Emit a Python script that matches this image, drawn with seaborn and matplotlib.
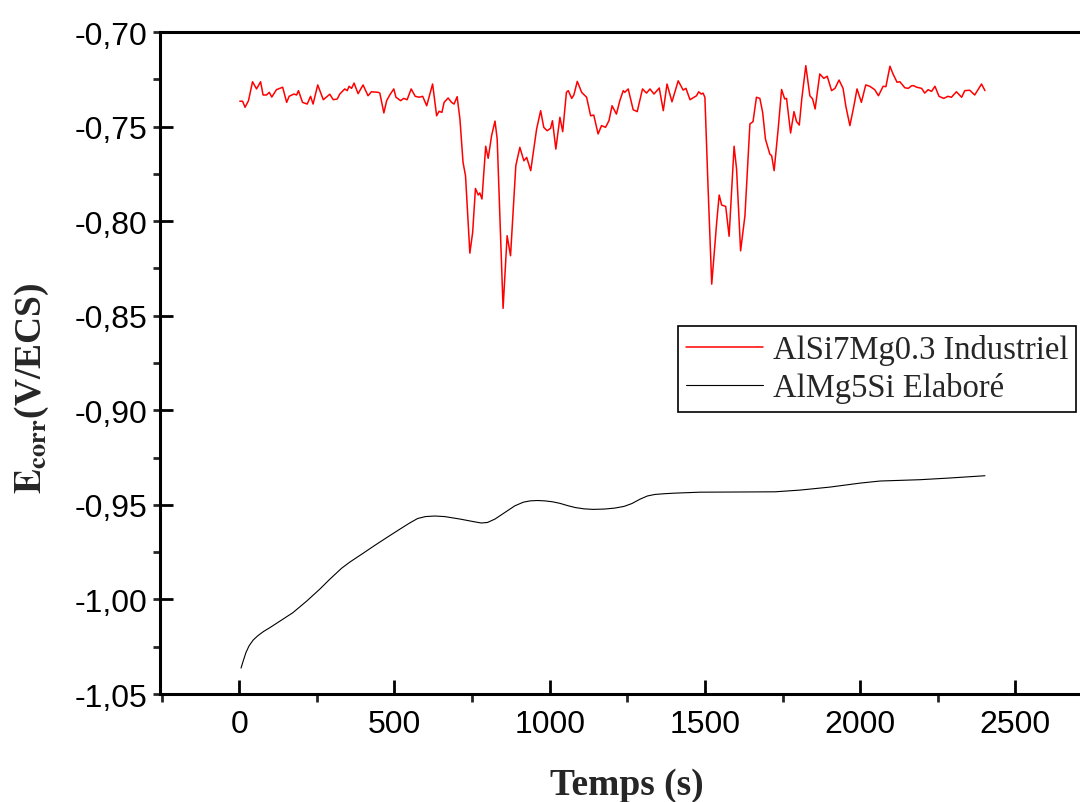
import numpy as np
import pandas as pd
import seaborn as sns
import matplotlib
matplotlib.use("Agg")
import matplotlib.pyplot as plt
from matplotlib.ticker import MultipleLocator, FuncFormatter

# AlSi7Mg0.3 Industriel (courbe rouge)
t_ind = [2, 11, 19, 30, 43, 56, 69, 77, 88, 97, 105, 120, 140, 153, 161, 176, 185, 191, 204, 219,
         230, 238, 253, 271, 292, 303, 316, 324, 340, 348, 354, 362, 370, 383, 399, 415, 426, 448, 453, 466,
         475, 485, 498, 505, 520, 530, 541, 554, 567, 580, 591, 604, 623, 636, 644, 653, 660, 673, 684, 692,
         702, 711, 721, 729, 743, 752, 761, 770, 775, 782, 794, 802, 813, 824, 831, 840, 850, 863, 874, 891,
         904, 917, 926, 939, 958, 971, 981, 992, 1003, 1009, 1020, 1033, 1042, 1054, 1060, 1071, 1078, 1089, 1103, 1119,
         1132, 1142, 1156, 1167, 1180, 1191, 1201, 1215, 1226, 1237, 1242, 1253, 1269, 1282, 1299, 1312, 1323, 1336, 1353, 1366,
         1378, 1394, 1414, 1430, 1439, 1452, 1473, 1480, 1488, 1494, 1500, 1510, 1522, 1538, 1546, 1554, 1567, 1578, 1594, 1602,
         1615, 1629, 1645, 1655, 1666, 1677, 1686, 1695, 1709, 1715, 1723, 1736, 1747, 1757, 1763, 1776, 1787, 1795, 1804, 1812,
         1825, 1838, 1847, 1855, 1870, 1883, 1894, 1908, 1919, 1932, 1945, 1954, 1967, 1980, 1990, 2004, 2018, 2031, 2047, 2059,
         2074, 2083, 2096, 2106, 2119, 2128, 2144, 2155, 2166, 2173, 2182, 2198, 2208, 2219, 2230, 2241, 2254, 2269, 2283, 2294,
         2310, 2327, 2337, 2353, 2369, 2391, 2402]
e_ind = [-0.7366, -0.7366, -0.7398, -0.7363, -0.7263, -0.7301, -0.7263, -0.7333, -0.7333, -0.7319,
         -0.7344, -0.7305, -0.7292, -0.7372, -0.7340, -0.7328, -0.7333, -0.7310, -0.7372, -0.7381,
         -0.7340, -0.7381, -0.7280, -0.7358, -0.7329, -0.7358, -0.7354, -0.7328, -0.7301, -0.7310,
         -0.7287, -0.7298, -0.7270, -0.7326, -0.7280, -0.7337, -0.7316, -0.7319, -0.7323, -0.7428,
         -0.7363, -0.7333, -0.7301, -0.7345, -0.7363, -0.7351, -0.7358, -0.7301, -0.7340, -0.7345,
         -0.7340, -0.7390, -0.7275, -0.7443, -0.7419, -0.7425, -0.7372, -0.7349, -0.7372, -0.7381,
         -0.7342, -0.7460, -0.7689, -0.7760, -0.8169, -0.8059, -0.7827, -0.7862, -0.7851, -0.7883,
         -0.7604, -0.7668, -0.7548, -0.7471, -0.7566, -0.7989, -0.8461, -0.8077, -0.8183, -0.7707,
         -0.7610, -0.7681, -0.7663, -0.7733, -0.7513, -0.7416, -0.7504, -0.7522, -0.7509, -0.7469,
         -0.7619, -0.7451, -0.7527, -0.7319, -0.7310, -0.7351, -0.7333, -0.7261, -0.7319, -0.7345,
         -0.7443, -0.7439, -0.7539, -0.7495, -0.7504, -0.7469, -0.7390, -0.7434, -0.7363, -0.7310,
         -0.7319, -0.7301, -0.7411, -0.7421, -0.7301, -0.7323, -0.7301, -0.7328, -0.7296, -0.7416,
         -0.7275, -0.7369, -0.7258, -0.7307, -0.7298, -0.7358, -0.7337, -0.7316, -0.7328, -0.7323,
         -0.7345, -0.7813, -0.8333, -0.8006, -0.7862, -0.7915, -0.7922, -0.8080, -0.7604, -0.7724,
         -0.8157, -0.7971, -0.7486, -0.7474, -0.7345, -0.7351, -0.7425, -0.7566, -0.7645, -0.7654,
         -0.7733, -0.7513, -0.7304, -0.7354, -0.7351, -0.7534, -0.7421, -0.7473, -0.7492, -0.7354,
         -0.7178, -0.7337, -0.7354, -0.7407, -0.7222, -0.7245, -0.7234, -0.7310, -0.7298, -0.7254,
         -0.7298, -0.7393, -0.7495, -0.7390, -0.7301, -0.7372, -0.7280, -0.7287, -0.7305, -0.7337,
         -0.7287, -0.7289, -0.7181, -0.7222, -0.7266, -0.7263, -0.7295, -0.7298, -0.7284, -0.7284,
         -0.7292, -0.7298, -0.7323, -0.7305, -0.7314, -0.7287, -0.7340, -0.7351, -0.7340, -0.7345,
         -0.7316, -0.7345, -0.7310, -0.7308, -0.7333, -0.7275, -0.7310]

# AlMg5Si Elaboré (courbe noire)
t_ela = [6, 14, 22, 32, 45, 60, 78, 100, 131, 173, 218, 260, 292, 330, 356, 400, 437, 480, 518, 550,
         575, 600, 630, 662, 711, 759, 780, 800, 824, 856, 888, 915, 937, 960, 985, 1010, 1033, 1060,
         1082, 1110, 1140, 1178, 1210, 1240, 1265, 1291, 1315, 1339, 1370, 1404, 1484, 1613, 1726,
         1806, 1903, 2000, 2064, 2193, 2289, 2402]
e_ela = [-1.0363, -1.0320, -1.0280, -1.0245, -1.0215, -1.0192, -1.0170, -1.0148, -1.0115, -1.0070,
         -1.0008, -0.9945, -0.9893, -0.9835, -0.9803, -0.9755, -0.9714, -0.9668, -0.9628, -0.9595,
         -0.9572, -0.9562, -0.9559, -0.9562, -0.9575, -0.9590, -0.9596, -0.9593, -0.9575, -0.9540,
         -0.9505, -0.9486, -0.9479, -0.9477, -0.9479, -0.9484, -0.9492, -0.9505, -0.9514, -0.9521,
         -0.9524, -0.9522, -0.9517, -0.9508, -0.9493, -0.9470, -0.9453, -0.9445, -0.9441, -0.9438,
         -0.9433, -0.9432, -0.9431, -0.9422, -0.9406, -0.9385, -0.9374, -0.9367, -0.9358, -0.9346]

labels = ["AlSi7Mg0.3 Industriel", "AlMg5Si Elaboré"]

sns.set_style("ticks")
plt.rcParams["font.family"] = ["Liberation Sans", "DejaVu Sans"]
plt.rcParams["mathtext.fontset"] = "stix"

fig = plt.figure(figsize=(10.8, 8.03), dpi=100)
ax = fig.add_axes([160 / 1080, 108 / 803, 933 / 1080, 662 / 803])

sns.lineplot(x=t_ind, y=e_ind, color="red", lw=1.1, estimator=None, ax=ax, label=labels[0])
sns.lineplot(x=t_ela, y=e_ela, color="black", lw=0.8, estimator=None, ax=ax, label=labels[1])

ax.set_xlim(-255, 2750)
ax.set_ylim(-1.05, -0.70)

ax.xaxis.set_major_locator(MultipleLocator(500))
ax.xaxis.set_minor_locator(MultipleLocator(250))
ax.yaxis.set_major_locator(MultipleLocator(0.05))
ax.yaxis.set_minor_locator(MultipleLocator(0.025))
ax.yaxis.remove_overlapping_locs = False
ax.yaxis.set_major_formatter(FuncFormatter(lambda v, p: f"{v:.2f}".replace(".", ",")))

ax.tick_params(axis="x", which="major", direction="in", length=10, width=2, pad=11,
               labelsize=23, colors="black")
ax.tick_params(axis="x", which="minor", direction="out", length=6, width=2)
ax.tick_params(axis="y", which="major", direction="in", length=9, width=2, pad=9,
               labelsize=23, colors="black")
ax.tick_params(axis="y", which="minor", direction="out", length=5, width=2)

for side in ["left", "bottom", "top"]:
    ax.spines[side].set_linewidth(2.2)
    ax.spines[side].set_color("black")
ax.spines["right"].set_visible(False)

ax.set_xlabel("Temps (s)", fontsize=27, fontweight="bold", family="Liberation Serif", labelpad=20)
ax.set_ylabel(r"$\mathbf{E_{corr}}$(V/ECS)", fontsize=27, fontweight="bold", family="Liberation Serif")
ax.yaxis.set_label_coords(-0.117, 0.464)

leg = ax.legend(loc="upper left", bbox_to_anchor=(678 / 1080, 1 - 327 / 803),
                bbox_transform=fig.transFigure, borderaxespad=0, frameon=True, fancybox=False,
                framealpha=1, edgecolor="black", handlelength=2.35, handletextpad=0.3,
                labelspacing=0.22, borderpad=0.25, prop={"family": "Liberation Serif", "size": 23.5})
leg.get_frame().set_linewidth(1.2)

fig.savefig("out.png", dpi=100)
